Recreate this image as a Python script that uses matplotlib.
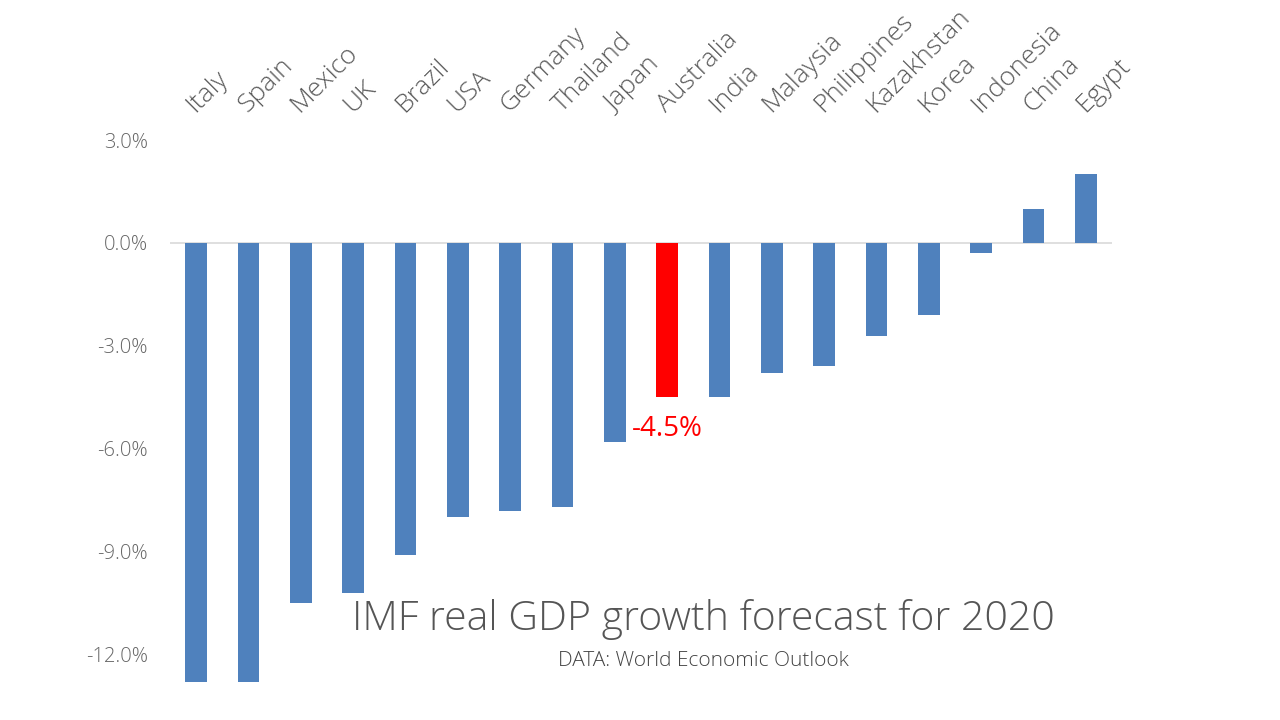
import matplotlib
matplotlib.use("Agg")
import matplotlib.pyplot as plt
from matplotlib.transforms import blended_transform_factory

countries = ["Italy", "Spain", "Mexico", "UK", "Brazil", "USA", "Germany", "Thailand",
             "Japan", "Australia", "India", "Malaysia", "Philippines", "Kazakhstan",
             "Korea", "Indonesia", "China", "Egypt"]
growth = [-12.8, -12.8, -10.5, -10.2, -9.1, -8.0, -7.8, -7.7, -5.8, -4.5, -4.5,
          -3.8, -3.6, -2.7, -2.1, -0.3, 1.0, 2.0]
yticks = [3.0, 0.0, -3.0, -6.0, -9.0, -12.0]
highlight = "Australia"
highlight_label = "-4.5%"
title = "IMF real GDP growth forecast for 2020"
subtitle = "DATA: World Economic Outlook"

plt.rcParams['font.family'] = ['Open Sans', 'DejaVu Sans']

fig = plt.figure(figsize=(12.8, 7.2), dpi=100)
ax = fig.add_axes([170/1280, 1 - 689/720, 942/1280, 549/720])

blue = "#4F81BD"
red = "#FF0000"
colors = [red if c == highlight else blue for c in countries]
x = list(range(len(countries)))
ax.bar(x, growth, width=0.42, color=colors, zorder=3)
ax.axhline(0, color="#d9d9d9", lw=1.2, zorder=2)

ax.set_xlim(-0.5, len(countries) - 0.5)
ax.set_ylim(-13, 3)
ax.set_yticks(yticks)
ax.set_yticklabels([f"{v:.1f}%" for v in yticks], color="#666666", fontsize=14.5,
                   fontweight='light')
ax.tick_params(axis='y', length=0, pad=16)
ax.set_xticks([])
for s in ax.spines.values():
    s.set_visible(False)

# category labels on top
trans = blended_transform_factory(ax.transData, fig.transFigure)
for i, c in enumerate(countries):
    ax.text(i - 0.02, 1 - 113/720, c, transform=trans, rotation=45,
            rotation_mode='anchor', ha='left', va='baseline',
            fontsize=19, color="#5a5a5a", fontweight='light')

# highlight label
hi = countries.index(highlight)
ax.text(hi, growth[hi] - 0.5, highlight_label, ha='center', va='top',
        color=red, fontsize=20)

fig.text(703/1280, 1 - 620/720, title, ha='center', va='center',
         fontsize=29.5, color="#555555", fontweight='light')
fig.text(703/1280, 1 - 661/720, subtitle, ha='center', va='center',
         fontsize=15, color="#444444", fontweight='light')

fig.savefig("out.png", dpi=100)
